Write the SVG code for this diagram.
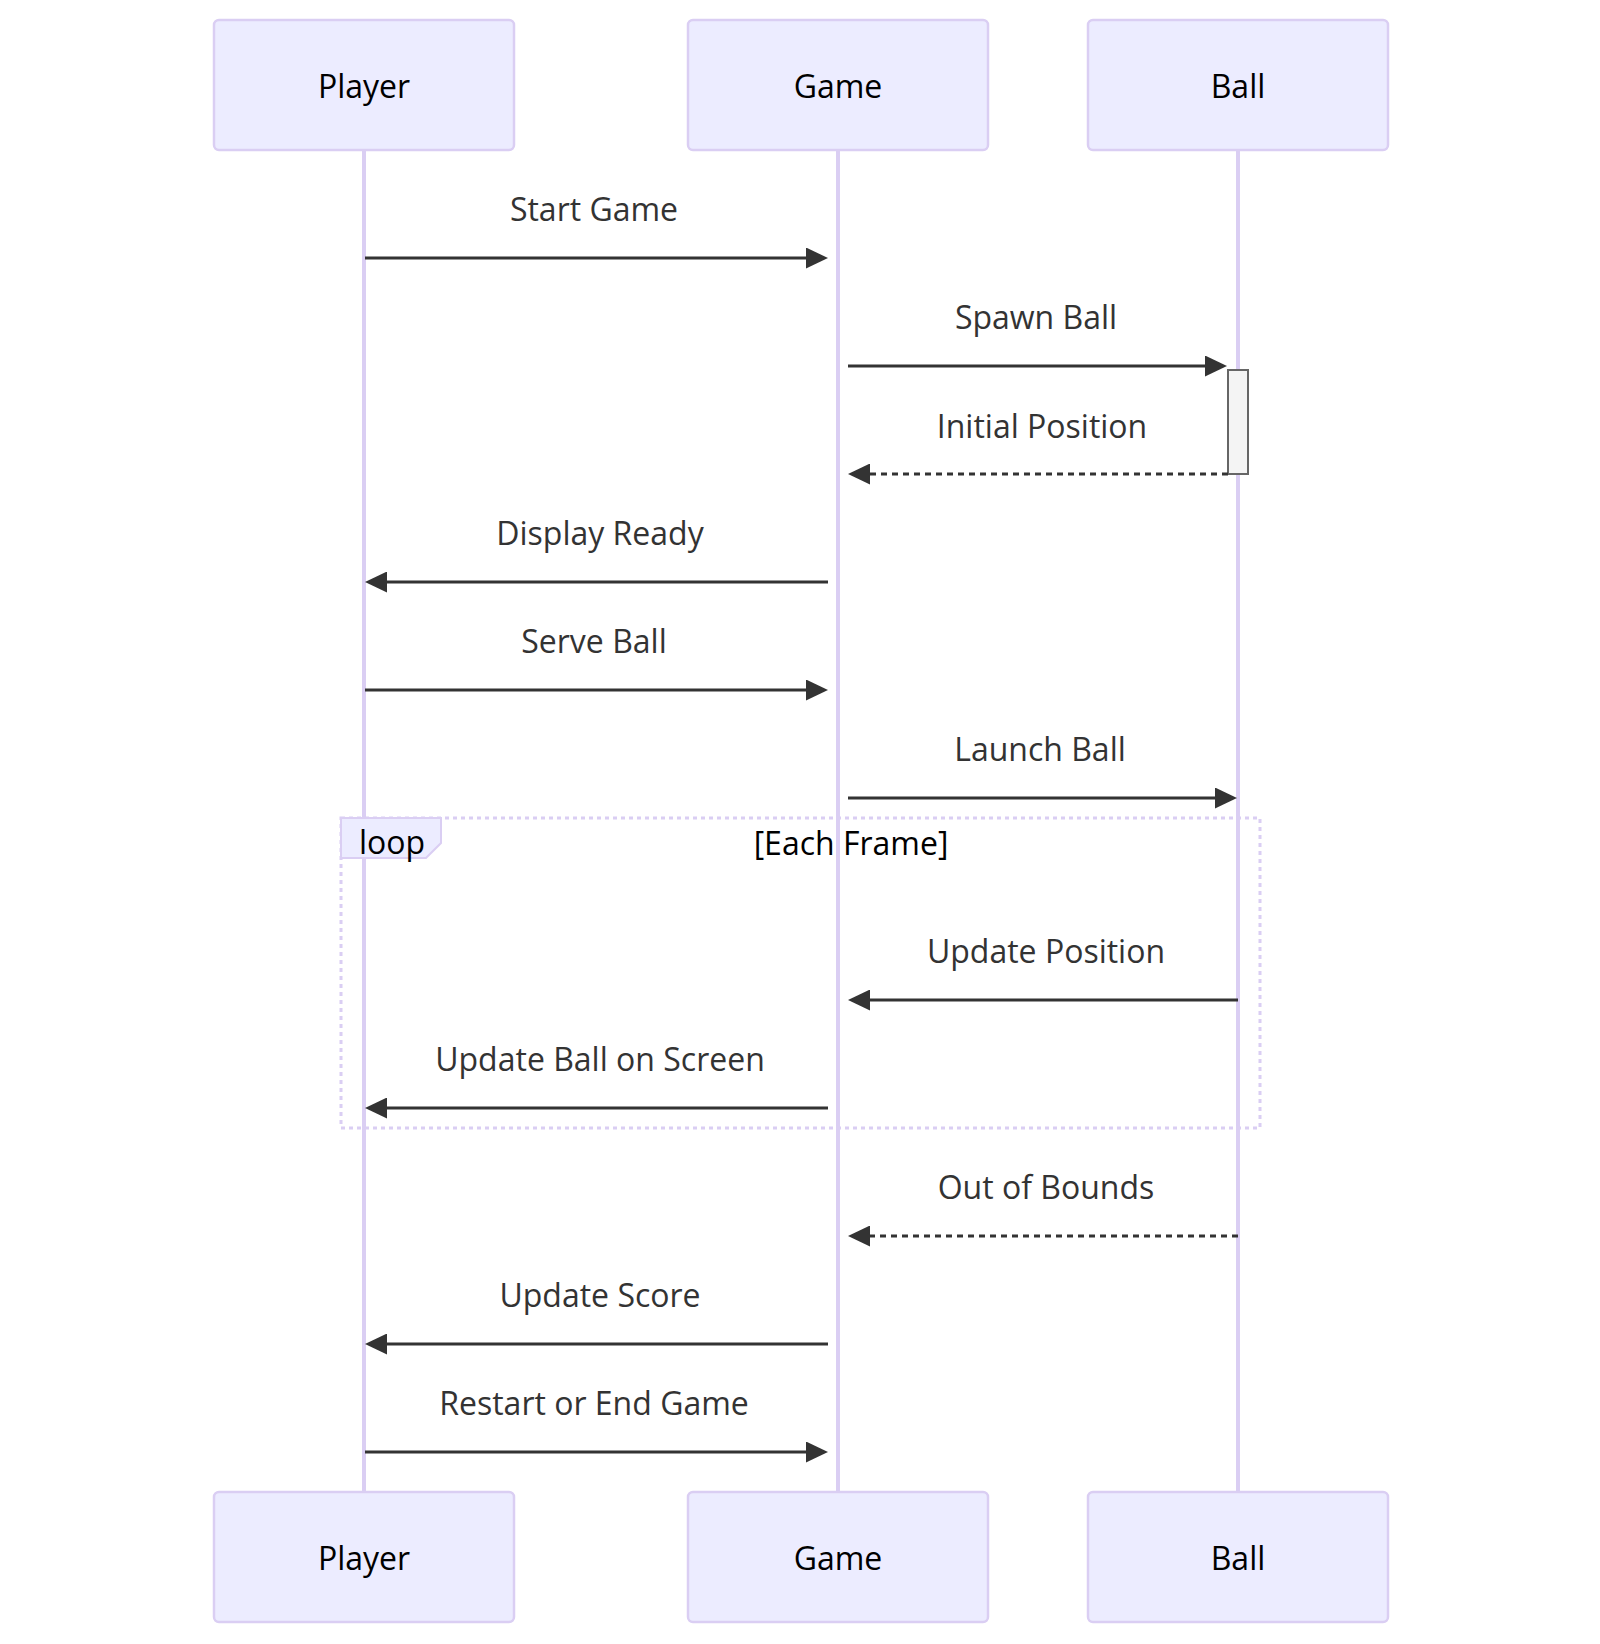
<svg xmlns="http://www.w3.org/2000/svg" width="1600" height="1644" viewBox="0 0 1600 1644">
<defs>
<style>
.actor{fill:#ECECFF;stroke:#DACEF3;stroke-width:2.5}
.atext{font-family:"Open Sans","Noto Sans",sans-serif;font-size:32px;fill:#000;text-anchor:middle}
.life{stroke:#DACEF3;stroke-width:4}
.msg{stroke:#333;stroke-width:3;fill:none}
.dash{stroke-dasharray:6,5}
.mtext{font-family:"Open Sans","Noto Sans",sans-serif;font-size:32px;fill:#333;text-anchor:middle}
.loopline{stroke:#DACEF3;stroke-width:3;stroke-dasharray:4,4;fill:none}
</style>
<marker id="arr" markerUnits="userSpaceOnUse" markerWidth="22" markerHeight="21" viewBox="0 0 22 21" refX="0" refY="10.5" orient="auto">
<path d="M0,0 L22,10.5 L0,21 z" fill="#333"/>
</marker>
</defs>
<rect width="1600" height="1644" fill="#fff"/>
<g id="lifelines">
<line class="life" x1="364" y1="150" x2="364" y2="1492"/>
<line class="life" x1="838" y1="150" x2="838" y2="1492"/>
<line class="life" x1="1238" y1="150" x2="1238" y2="1492"/>
</g>
<g id="actor-player-top"><rect class="actor" x="214" y="20" width="300" height="130" rx="5"/><text class="atext" x="364" y="98">Player</text></g>
<g id="actor-game-top"><rect class="actor" x="688" y="20" width="300" height="130" rx="5"/><text class="atext" x="838" y="98">Game</text></g>
<g id="actor-ball-top"><rect class="actor" x="1088" y="20" width="300" height="130" rx="5"/><text class="atext" x="1238" y="98">Ball</text></g>
<g id="actor-player-bottom"><rect class="actor" x="214" y="1492" width="300" height="130" rx="5"/><text class="atext" x="364" y="1570">Player</text></g>
<g id="actor-game-bottom"><rect class="actor" x="688" y="1492" width="300" height="130" rx="5"/><text class="atext" x="838" y="1570">Game</text></g>
<g id="actor-ball-bottom"><rect class="actor" x="1088" y="1492" width="300" height="130" rx="5"/><text class="atext" x="1238" y="1570">Ball</text></g>
<g id="activation"><rect x="1228" y="370" width="20" height="104" fill="#f4f4f4" stroke="#666" stroke-width="2"/></g>
<g id="loop">
<rect class="loopline" x="341" y="818" width="919" height="310"/>
<path d="M341,818 L441,818 L441,843 L426,858 L341,858 Z" fill="#ECECFF" stroke="#DACEF3" stroke-width="2"/>
<text class="atext" x="359" y="854" style="text-anchor:start">loop</text>
<text class="atext" x="851" y="855">[Each Frame]</text>
</g>
<g id="connectors">
<line class="msg" x1="365" y1="258" x2="806" y2="258" marker-end="url(#arr)"/>
<line class="msg" x1="848" y1="366" x2="1205" y2="366" marker-end="url(#arr)"/>
<line class="msg dash" x1="1228" y1="474" x2="870" y2="474" marker-end="url(#arr)"/>
<line class="msg" x1="828" y1="582" x2="387" y2="582" marker-end="url(#arr)"/>
<line class="msg" x1="365" y1="690" x2="806" y2="690" marker-end="url(#arr)"/>
<line class="msg" x1="848" y1="798" x2="1215" y2="798" marker-end="url(#arr)"/>
<line class="msg" x1="1238" y1="1000" x2="870" y2="1000" marker-end="url(#arr)"/>
<line class="msg" x1="828" y1="1108" x2="387" y2="1108" marker-end="url(#arr)"/>
<line class="msg dash" x1="1238" y1="1236" x2="870" y2="1236" marker-end="url(#arr)"/>
<line class="msg" x1="828" y1="1344" x2="387" y2="1344" marker-end="url(#arr)"/>
<line class="msg" x1="365" y1="1452" x2="806" y2="1452" marker-end="url(#arr)"/>
</g>
<g id="labels">
<text class="mtext" x="594" y="221">Start Game</text>
<text class="mtext" x="1036" y="329">Spawn Ball</text>
<text class="mtext" x="1042" y="438">Initial Position</text>
<text class="mtext" x="600" y="545">Display Ready</text>
<text class="mtext" x="594" y="653">Serve Ball</text>
<text class="mtext" x="1040" y="761">Launch Ball</text>
<text class="mtext" x="1046" y="963">Update Position</text>
<text class="mtext" x="600" y="1071">Update Ball on Screen</text>
<text class="mtext" x="1046" y="1199">Out of Bounds</text>
<text class="mtext" x="600" y="1307">Update Score</text>
<text class="mtext" x="594" y="1415">Restart or End Game</text>
</g>
</svg>
